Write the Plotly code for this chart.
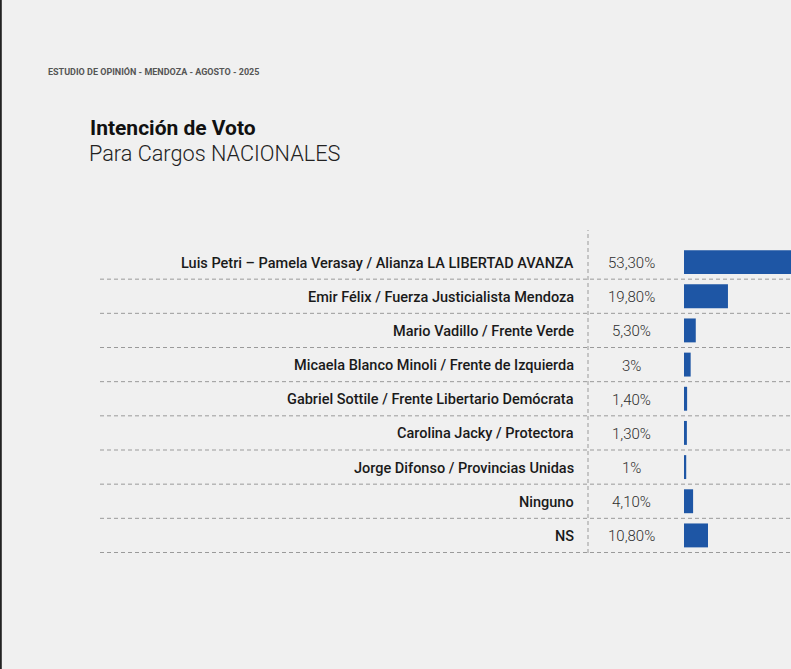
import plotly.graph_objects as go

categories = [
    "Luis Petri – Pamela Verasay / Alianza LA LIBERTAD AVANZA",
    "Emir Félix / Fuerza Justicialista Mendoza",
    "Mario Vadillo / Frente Verde",
    "Micaela Blanco Minoli / Frente de Izquierda",
    "Gabriel Sottile / Frente Libertario Demócrata",
    "Carolina Jacky / Protectora",
    "Jorge Difonso / Provincias Unidas",
    "Ninguno",
    "NS",
]
values = [53.3, 19.8, 5.3, 3.0, 1.4, 1.3, 1.0, 4.1, 10.8]
value_labels = ["53,30%", "19,80%", "5,30%", "3%", "1,40%", "1,30%", "1%", "4,10%", "10,80%"]

W, H = 791, 669
BG = "#f0f0f0"
BAR = "#1e56a5"

def px(x):
    return x / W

def py(y):
    return 1 - y / H

fig = go.Figure()
fig.add_trace(go.Bar(
    x=values, y=categories, orientation="h",
    marker=dict(color=BAR, line=dict(width=0)),
    width=0.7, hoverinfo="skip",
))

annotations = []
for cat, lab in zip(categories, value_labels):
    annotations.append(dict(
        x=px(576), xref="paper", y=cat, yref="y", text=cat, showarrow=False,
        xanchor="right", yanchor="middle", yshift=-1,
        font=dict(family="Roboto", size=14.5, color="#1a1a1a", weight=500),
    ))
    annotations.append(dict(
        x=px(631), xref="paper", y=cat, yref="y", text=lab, showarrow=False,
        xanchor="center", yanchor="middle", yshift=-1,
        font=dict(family="Roboto", size=15, color="#2e2e2e", weight=300),
    ))

annotations += [
    dict(x=px(46), xref="paper", y=py(72), yref="paper",
         text="ESTUDIO DE OPINIÓN - MENDOZA - AGOSTO - 2025", showarrow=False,
         xanchor="left", yanchor="middle",
         font=dict(family="Roboto", size=9, color="#555555", weight=700)),
    dict(x=px(88), xref="paper", y=py(128), yref="paper",
         text="<b>Intención de Voto</b>", showarrow=False,
         xanchor="left", yanchor="middle",
         font=dict(family="Roboto", size=21, color="#111111")),
    dict(x=px(87), xref="paper", y=py(154), yref="paper",
         text="Para Cargos NACIONALES", showarrow=False,
         xanchor="left", yanchor="middle",
         font=dict(family="Roboto", size=21.7, color="#222222", weight=300)),
]

shapes = []
for i in range(len(categories)):
    shapes.append(dict(
        type="line", xref="paper", yref="y", x0=px(100), x1=1,
        y0=i + 0.5, y1=i + 0.5,
        line=dict(color="#9a9a9a", width=1, dash="4px,3px"), layer="below",
    ))
shapes.append(dict(
    type="line", xref="paper", yref="paper", x0=px(588), x1=px(588),
    y0=py(553), y1=py(230),
    line=dict(color="#9a9a9a", width=1, dash="4px,3px"), layer="below",
))
shapes.append(dict(
    type="line", xref="paper", yref="paper", x0=0.001, x1=0.001, y0=0, y1=1,
    line=dict(color="#222222", width=2),
))

fig.update_layout(
    width=W, height=H, margin=dict(l=0, r=0, t=0, b=0),
    paper_bgcolor=BG, plot_bgcolor=BG, showlegend=False,
    xaxis=dict(domain=[px(684), 1], range=[0, (W - 684) / 2.22],
               visible=False, fixedrange=True),
    yaxis=dict(domain=[py(553), py(245)], autorange="reversed",
               visible=False, fixedrange=True, type="category"),
    annotations=annotations, shapes=shapes, bargap=0.3,
)

fig.write_html("out.html")
